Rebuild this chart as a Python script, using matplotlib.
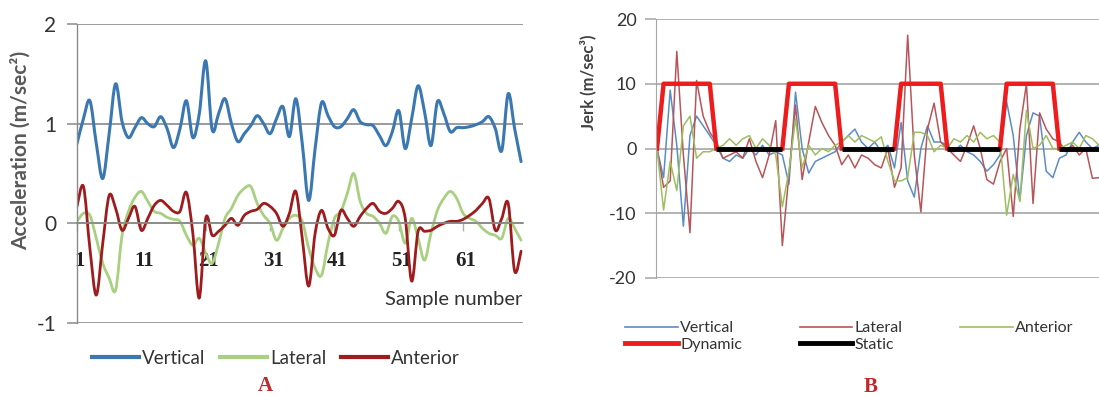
import numpy as np
import matplotlib.pyplot as plt
import matplotlib.transforms as mtransforms
from matplotlib.path import Path
from matplotlib.patches import PathPatch
from matplotlib.lines import Line2D

plt.rcParams['axes.unicode_minus'] = False

# ---- panel A: acceleration, samples 1..70 ----
sample_a = np.arange(1, 71)
vertical_a = [0.80, 1.05, 1.23, 0.80, 0.45, 0.90, 1.40, 1.02, 0.86, 0.96,
              1.06, 1.00, 0.97, 1.07, 0.95, 0.76, 0.95, 1.23, 0.86, 1.10,
              1.63, 0.94, 1.10, 1.25, 1.00, 0.82, 0.90, 0.98, 1.08, 1.00,
              0.90, 1.05, 1.17, 0.87, 1.25, 0.80, 0.23, 0.75, 1.21, 1.08,
              0.97, 0.97, 1.05, 1.14, 1.02, 0.99, 0.98, 0.88, 0.78, 0.92,
              1.13, 0.75, 1.05, 1.38, 1.12, 0.78, 1.22, 1.10, 0.92, 0.96,
              0.96, 0.97, 0.99, 1.02, 1.07, 0.95, 0.73, 1.30, 0.95, 0.62]
lateral_a = [0.02, 0.10, 0.08, -0.15, -0.40, -0.55, -0.67, -0.12, 0.12, 0.26,
             0.32, 0.22, 0.12, 0.10, 0.06, 0.04, 0.02, -0.12, -0.22, -0.15,
             -0.30, -0.40, -0.20, 0.05, 0.15, 0.28, 0.35, 0.37, 0.20, 0.08,
             0.00, -0.17, -0.05, 0.05, 0.08, 0.02, -0.25, -0.45, -0.52, -0.20,
             0.05, 0.12, 0.30, 0.50, 0.22, 0.10, 0.07, 0.00, -0.10, 0.07,
             0.02, -0.20, 0.05, -0.15, -0.37, -0.10, 0.13, 0.25, 0.32, 0.25,
             0.10, 0.05, 0.02, -0.05, -0.10, -0.12, -0.15, 0.05, -0.05, -0.17]
anterior_a = [0.17, 0.37, -0.25, -0.72, -0.20, 0.28, 0.15, -0.07, 0.05, 0.17,
              -0.07, 0.05, 0.18, 0.23, 0.18, 0.12, 0.12, 0.31, -0.10, -0.75,
              0.05, -0.12, -0.08, -0.02, 0.05, -0.02, 0.08, 0.12, 0.14, 0.20,
              0.17, 0.10, -0.03, 0.10, 0.32, -0.15, -0.63, -0.10, 0.13, -0.05,
              -0.12, 0.13, 0.05, -0.03, 0.07, 0.15, 0.20, 0.12, 0.10, 0.15,
              0.22, 0.05, -0.58, -0.08, -0.08, -0.07, -0.03, 0.00, 0.02, 0.02,
              0.04, 0.08, 0.13, 0.20, 0.25, -0.07, 0.05, 0.20, -0.48, -0.28]
ticks_a = [1, 11, 21, 31, 41, 51, 61]

# ---- panel B: jerk, samples 0..67 ----
sample_b = np.arange(0, 68)
vertical_b = [0, -4.5, 9, 0.5, -12, 2, 5, 3.5, 2, 0.5,
              -1.5, -2, -1, -1.5, 0, -1, 0.5, -1, -0.5, -1,
              -5.5, 8.7, 0, -3.8, -2, -1.5, -1, -0.5, 1, 2,
              3, 1, 0, 1, -0.5, 0.5, -3, 4, -5, -7.5,
              0, 3.5, 1, 1, 0.5, -0.5, 0.5, -0.5, -1, -2,
              -3.5, -2.5, -1, 7.2, 2, -8, 2, 5.5, 5, -3.5,
              -4.5, -1.5, -1, 1, 2.5, 1, 0, 0.5]
lateral_b = [0, -6, -5, 15, -1, -13, 10.5, 5, 2.5, 1,
             -1.5, -1, -0.5, -1.5, 1.5, -2, -4.5, -1, 4.3, -15,
             -4, 6.7, -4.8, 1, 6.5, 4, 2, 0.5, -2.5, -1,
             -3, -1, -1.5, -2.5, -3, 0, -6, -3, 17.5, -1,
             -9.8, 3, 7, 1, 0, -1, -2, 0.5, 3.5, 0,
             -4.8, -5.5, -2, 0, -10.5, 3, 10, -8.5, 5.5, 3,
             1.5, 1, -0.5, 0.5, -1, 0, -4.6, -4.5]
anterior_b = [0, -9.5, -2, -6.5, 3.5, 5, -1.5, -0.5, -0.5, 0,
              0.5, 1.5, 0.5, 1.5, 2, 0, 1.5, 0.5, -1, -9,
              -3.5, 4.6, -3, 0.5, -1, 0, -0.5, 0.5, 1, 2,
              1, 2, 1.5, 1, 1.8, -2, -5, -5, -4.5, 2.5,
              2.5, 2, -0.5, 0.5, 0, 1.5, 1, 2, 1, 2.5,
              1.5, 2, 1, -10.3, -4, -8.2, 5.9, 0, 0.5, 2,
              0, 0, 0.5, 1, 0, 2, 1.5, 0.5]
N = None
dynamic_b = ([0] + [10] * 8 + [0] + [N] * 9 + [0] + [10] * 8 + [0] + [N] * 7
             + [0] + [10] * 7 + [0] + [N] * 7 + [0] + [10] * 8 + [0] + [N] * 6)
static_b = ([N] * 9 + [0] * 11 + [N] * 8 + [0] * 9 + [N] * 7 + [0] * 9
            + [N] * 8 + [0] * 7)
dynamic_b = np.array(dynamic_b, dtype=float)
static_b = np.array(static_b, dtype=float)

sans = ['Lato', 'DejaVu Sans']
grid_a = '#8a8a8a'
grid_b = '#a6a6a6'
c_vert_a, c_lat_a, c_ant_a = '#3b78b2', '#a8d080', '#9e1b1e'
c_vert_b, c_lat_b, c_ant_b = '#5b8cc4', '#b8555a', '#9dbf5f'


def smooth_path(x, y):
    # Excel-style smoothed line: cubic Bezier through every data point
    x = np.asarray(x, float)
    y = np.asarray(y, float)
    xp = np.r_[x[0], x, x[-1]]
    yp = np.r_[y[0], y, y[-1]]
    verts = [(x[0], y[0])]
    codes = [Path.MOVETO]
    for i in range(len(x) - 1):
        c1 = (x[i] + (xp[i + 2] - xp[i]) / 6, y[i] + (yp[i + 2] - yp[i]) / 6)
        c2 = (x[i + 1] - (xp[i + 3] - xp[i + 1]) / 6,
              y[i + 1] - (yp[i + 3] - yp[i + 1]) / 6)
        verts += [c1, c2, (x[i + 1], y[i + 1])]
        codes += [Path.CURVE4] * 3
    return Path(verts, codes)


W, H = 1099, 396
fig = plt.figure(figsize=(W / 100, H / 100), dpi=100)

# ================= panel A =================
axA = fig.add_axes([77 / W, 73 / H, 446 / W, 299 / H])
axA.set_xlim(1, 70.3)
axA.set_ylim(-1, 2)
axA.set_yticks([-1, 0, 1, 2])
axA.yaxis.grid(True, color=grid_a, lw=1.2)
axA.set_axisbelow(True)
for s in ['top', 'right']:
    axA.spines[s].set_visible(False)
axA.spines['left'].set_color(grid_a)
axA.spines['left'].set_linewidth(1.0)
axA.spines['bottom'].set_position(('data', 0))
axA.spines['bottom'].set_color(grid_a)
axA.spines['bottom'].set_linewidth(1.2)
axA.tick_params(axis='y', length=7, color=grid_a, width=1.1, pad=8,
                labelsize=15, labelcolor='#333333')
for lbl in axA.get_yticklabels():
    lbl.set_fontfamily(sans)
axA.set_xticks(ticks_a, [str(t) for t in ticks_a], fontfamily='Liberation Serif',
               fontweight='bold', color='#222222')
axA.tick_params(axis='x', length=6, color='#b0b0b0', width=1.0, pad=14,
                labelsize=15)
shift = mtransforms.ScaledTranslation(3 / 100, 0, fig.dpi_scale_trans)
for lbl in axA.get_xticklabels():
    lbl.set_transform(lbl.get_transform() + shift)

for vals, col, lw in [(lateral_a, c_lat_a, 2.0), (anterior_a, c_ant_a, 2.0),
                      (vertical_a, c_vert_a, 2.2)]:
    axA.add_patch(PathPatch(smooth_path(sample_a, vals), fill=False,
                            edgecolor=col, lw=lw, capstyle='round',
                            joinstyle='round'))

fig.text(522 / W, 1 - 300 / H, 'Sample number', ha='right', va='center',
         fontsize=14.5, color='#333333', family=sans)
fig.text(21 / W, 1 - 150 / H, 'Acceleration (m/sec\u00b2)', rotation=90,
         ha='center', va='center', fontsize=15, fontweight='bold',
         color='#595959', family=sans)

hA = [Line2D([], [], color=c_vert_a, lw=3),
      Line2D([], [], color=c_lat_a, lw=3),
      Line2D([], [], color=c_ant_a, lw=3)]
fig.legend(hA, ['Vertical', 'Lateral', 'Anterior'], loc='center',
           bbox_to_anchor=(276 / W, 1 - 358 / H), ncol=3, frameon=False,
           prop={'family': sans, 'size': 13.5}, handlelength=2.5,
           handletextpad=0.15, columnspacing=0.8, labelcolor='#333333')
fig.text(265 / W, 1 - 386 / H, 'A', ha='center', va='center', fontsize=15,
         fontweight='bold', color='#c0282b', family='Liberation Serif')

# ================= panel B =================
axB = fig.add_axes([656 / W, 118 / H, 443 / W, 259 / H])
axB.set_xlim(-0.15, 67)
axB.set_ylim(-20, 20)
axB.set_yticks([-20, -10, 0, 10, 20])
axB.yaxis.grid(True, color=grid_b, lw=1.2)
axB.set_axisbelow(True)
for s in ['top', 'right', 'bottom']:
    axB.spines[s].set_visible(False)
axB.spines['left'].set_color(grid_b)
axB.set_xticks([])
axB.tick_params(axis='y', length=8, color=grid_b, width=1.1, pad=6,
                labelsize=13, labelcolor='#333333')
for lbl in axB.get_yticklabels():
    lbl.set_fontfamily(sans)

axB.plot(sample_b, vertical_b, color=c_vert_b, lw=1.1)
axB.plot(sample_b, lateral_b, color=c_lat_b, lw=1.1)
axB.plot(sample_b, anterior_b, color=c_ant_b, lw=1.1)
axB.plot(sample_b, dynamic_b, color='#ee1c1c', lw=3.2)
axB.plot(sample_b, static_b, color='black', lw=3.5, solid_capstyle='butt')

fig.text(588 / W, 1 - 82 / H, 'Jerk (m/sec\u00b3)', rotation=90,
         ha='center', va='center', fontsize=12, fontweight='bold',
         color='#404040', family=sans)

hB = [Line2D([], [], color=c_vert_b, lw=1.2),
      Line2D([], [], color='#ee1c1c', lw=3.5),
      Line2D([], [], color=c_lat_b, lw=1.2),
      Line2D([], [], color='black', lw=3.5),
      Line2D([], [], color=c_ant_b, lw=1.2)]
fig.legend(hB, ['Vertical', 'Dynamic', 'Lateral', 'Static', 'Anterior'],
           loc='upper left', bbox_to_anchor=(625 / W, 1 - 321 / H), ncol=3,
           frameon=False, prop={'family': sans, 'size': 11.5},
           handlelength=3.3, handletextpad=0.15, columnspacing=3.6,
           labelspacing=0.15, borderpad=0, borderaxespad=0,
           labelcolor='#333333')
fig.text(871 / W, 1 - 387 / H, 'B', ha='center', va='center', fontsize=15,
         fontweight='bold', color='#c0282b', family='Liberation Serif')

fig.savefig('out.png', dpi=100)
